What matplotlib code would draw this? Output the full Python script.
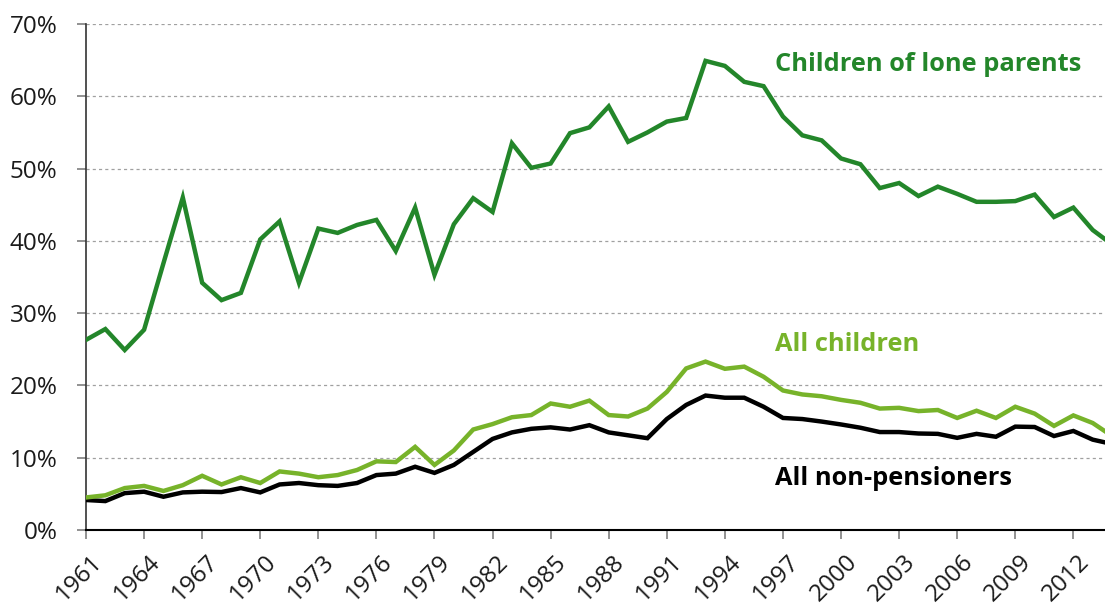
import matplotlib
matplotlib.use("Agg")
import matplotlib.pyplot as plt
import matplotlib.transforms as mtransforms
import numpy as np

plt.rcParams['font.family'] = ['Open Sans', 'DejaVu Sans']

years = list(range(1961, 2015))

lone_parents = [26.3, 27.8, 24.9, 27.7, 36.9, 46.0, 34.2, 31.8, 32.8, 40.2,
                42.7, 34.2, 41.7, 41.1, 42.2, 42.9, 38.6, 44.6, 35.3, 42.3,
                45.9, 44.0, 53.5, 50.1, 50.7, 54.9, 55.7, 58.6, 53.7, 55.0,
                56.5, 57.0, 64.9, 64.2, 62.0, 61.4, 57.2, 54.6, 53.9, 51.4,
                50.6, 47.3, 48.0, 46.2, 47.5, 46.5, 45.4, 45.4, 45.5, 46.4,
                43.3, 44.6, 41.5, 39.5]

all_children = [4.5, 4.8, 5.8, 6.1, 5.4, 6.2, 7.5, 6.3, 7.3, 6.5,
                8.1, 7.8, 7.3, 7.6, 8.3, 9.5, 9.4, 11.5, 9.0, 11.0,
                13.9, 14.65, 15.6, 15.9, 17.5, 17.05, 17.9, 15.9, 15.7, 16.8,
                19.1, 22.35, 23.3, 22.3, 22.6, 21.2, 19.3, 18.75, 18.5, 18.0,
                17.6, 16.8, 16.9, 16.45, 16.6, 15.5, 16.5, 15.5, 17.05, 16.1,
                14.4, 15.85, 14.8, 13.0]

non_pensioners = [4.15, 4.0, 5.1, 5.3, 4.6, 5.2, 5.3, 5.25, 5.8, 5.2,
                  6.3, 6.5, 6.2, 6.1, 6.5, 7.6, 7.8, 8.75, 7.9, 9.0,
                  10.8, 12.6, 13.5, 14.0, 14.2, 13.9, 14.5, 13.5, 13.1, 12.7,
                  15.35, 17.3, 18.6, 18.3, 18.3, 17.05, 15.5, 15.35, 15.0, 14.6,
                  14.15, 13.55, 13.55, 13.35, 13.3, 12.75, 13.3, 12.9, 14.3, 14.25,
                  13.0, 13.7, 12.5, 11.9]

dark_green = '#23862a'
light_green = '#77b32a'

fig = plt.figure(figsize=(11.05, 6.06), dpi=100)
ax = fig.add_axes([86 / 1105, 1 - 530 / 606, 1 - 86 / 1105, (530 - 24) / 606])

ax.plot(years, non_pensioners, color='black', lw=3.2, solid_joinstyle='miter', zorder=3)
ax.plot(years, all_children, color=light_green, lw=3.2, solid_joinstyle='miter', zorder=3)
ax.plot(years, lone_parents, color=dark_green, lw=3.2, solid_joinstyle='miter', zorder=3)

ax.set_xlim(1961, 1961 + 1019 / 19.36)
ax.set_ylim(0, 70)

ax.set_yticks(np.arange(0, 71, 10))
ax.set_yticklabels([f'{v}%' for v in range(0, 71, 10)], fontsize=17.5, color='#1a1a1a')
xt = list(range(1961, 2013, 3))
ax.set_xticks(xt)
ax.set_xticklabels([str(y) for y in xt], fontsize=17.5, rotation=45, ha='right',
                   va='top', rotation_mode='anchor', color='#1a1a1a')

ax.yaxis.grid(True, color='#a0a0a0', linestyle=(0, (2.5, 2.5)), lw=0.9)
ax.set_axisbelow(True)
ax.tick_params(axis='both', direction='out', length=6.5, width=1.2, color='#7f7f7f')
ax.tick_params(axis='x', pad=8)
ax.tick_params(axis='y', pad=14)

# nudge the rotated year labels a little to the right of their ticks
shift = mtransforms.ScaledTranslation(4 / 100, 0, fig.dpi_scale_trans)
for lbl in ax.get_xticklabels():
    lbl.set_transform(lbl.get_transform() + shift)

for side in ['top', 'right']:
    ax.spines[side].set_visible(False)
ax.spines['left'].set_color('#333333')
ax.spines['bottom'].set_color('black')
ax.spines['left'].set_linewidth(1.2)
ax.spines['bottom'].set_linewidth(1.5)

ax.text(1996.6, 63.5, 'Children of lone parents', color=dark_green,
        fontsize=18.3, fontweight='bold', ha='left', va='baseline')
ax.text(1996.6, 24.7, 'All children', color=light_green,
        fontsize=18.3, fontweight='bold', ha='left', va='baseline')
ax.text(1996.6, 6.2, 'All non-pensioners', color='black',
        fontsize=18.3, fontweight='bold', ha='left', va='baseline')

fig.savefig('out.png', dpi=100)
